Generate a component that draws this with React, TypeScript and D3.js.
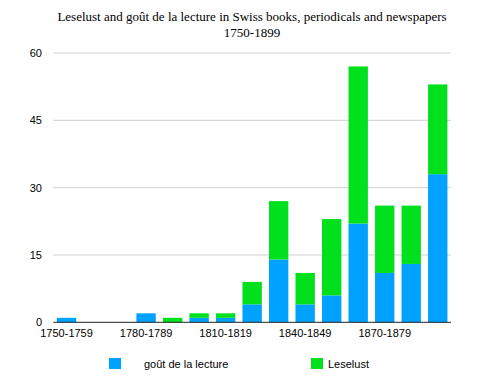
import React from "react";
import * as d3 from "d3";

const categories = [
  "1750-1759", "1760-1769", "1770-1779", "1780-1789", "1790-1799",
  "1800-1809", "1810-1819", "1820-1829", "1830-1839", "1840-1849",
  "1850-1859", "1860-1869", "1870-1879", "1880-1889", "1890-1899",
];
const goutValues = [1, 0, 0, 2, 0, 1, 1, 4, 14, 4, 6, 22, 11, 13, 33];
const leselustValues = [0, 0, 0, 0, 1, 1, 1, 5, 13, 7, 17, 35, 15, 13, 20];
const yTicks = [0, 15, 30, 45, 60];
const xTickLabels = ["1750-1759", "1780-1789", "1810-1819", "1840-1849", "1870-1879"];
const seriesNames = ["goût de la lecture", "Leselust"];
const colors = ["#00A2FF", "#00E01C"];

export default function App() {
  const W = 477, H = 378;
  const left = 53.3, right = 451, top = 53, bottom = 322.3;
  const x = d3.scaleBand<string>().domain(categories).range([left, right]).paddingInner(0.27).paddingOuter(0.135);
  const y = d3.scaleLinear().domain([0, 60]).range([bottom, top]);
  const data = categories.map((c, i) => ({ c, gout: goutValues[i], lese: leselustValues[i] }));
  const stack = d3.stack<any>().keys(["gout", "lese"])(data);
  const sans = "'Liberation Sans', Arial, Helvetica, sans-serif";
  return (
    <svg width={W} height={H} style={{ position: "absolute", left: 0, top: 0, background: "#fff" }}>
      <text x={252} y={21} textAnchor="middle" fontFamily="'Liberation Serif', 'Times New Roman', serif" fontSize={13} fill="#000">
        Leselust and goût de la lecture in Swiss books, periodicals and newspapers
      </text>
      <text x={252} y={37} textAnchor="middle" fontFamily="'Liberation Serif', 'Times New Roman', serif" fontSize={13} fill="#000">
        1750-1899
      </text>
      {yTicks.map((t) => (
        <g key={t}>
          {t !== 0 && <line x1={left} x2={right} y1={y(t)} y2={y(t)} stroke="#cfcfcf" strokeWidth={1} />}
          <text x={42} y={y(t) + 4} textAnchor="end" fontFamily={sans} fontSize={11} fill="#000">{t}</text>
        </g>
      ))}
      {stack.map((s, si) => (
        <g key={si} fill={colors[si]}>
          {s.map((d, i) => (
            <rect key={i} x={x(categories[i])} width={x.bandwidth()} y={y(d[1])} height={Math.max(0, y(d[0]) - y(d[1]))} />
          ))}
        </g>
      ))}
      <line x1={left} x2={right} y1={bottom} y2={bottom} stroke="#222" strokeWidth={1} />
      {xTickLabels.map((l) => (
        <text key={l} x={(x(l) as number) + x.bandwidth() / 2} y={337} textAnchor="middle" fontFamily={sans} fontSize={11} fill="#000">{l}</text>
      ))}
      {seriesNames.map((n, i) => {
        const lx = i === 0 ? 109 : 311;
        return (
          <g key={n}>
            <rect x={lx} y={358} width={12} height={11} fill={colors[i]} />
            <text x={i === 0 ? 144 : 328} y={367.5} fontFamily={sans} fontSize={11} fill="#000">{n}</text>
          </g>
        );
      })}
    </svg>
  );
}
